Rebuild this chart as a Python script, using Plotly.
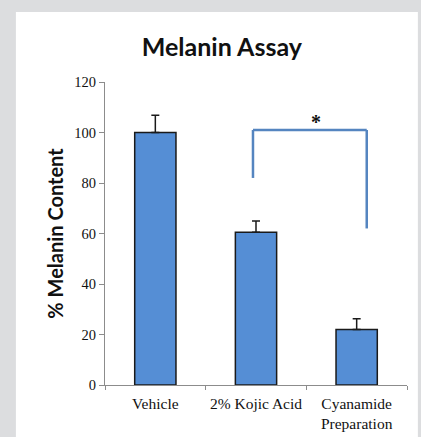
import plotly.graph_objects as go

# data
categories = ['Vehicle', '2% Kojic Acid', 'Cyanamide<br>Preparation']
melanin = [100, 60.5, 22]
err_up = [6.8, 4.5, 4.2]

# significance bracket (values on the y scale)
bracket_top = 101
bracket_left_bottom = 82
bracket_right_bottom = 62

BAR_BLUE = '#558ed5'
BRACKET_BLUE = '#5585c0'
AXIS_GREY = '#8c8c8c'
SERIF = 'Liberation Serif, Times New Roman, serif'
SANS = 'Lato, Open Sans, sans-serif'

fig = go.Figure()

fig.add_trace(go.Bar(
    x=categories,
    y=melanin,
    marker=dict(color=BAR_BLUE, line=dict(color='#1a1a1a', width=1.5)),
    error_y=dict(type='data', symmetric=False, array=err_up,
                 arrayminus=[0] * len(err_up),
                 color='#1a1a1a', thickness=1.5, width=4),
    showlegend=False,
))

# bracket between Kojic Acid and Cyanamide
xl, xr = 1 - 0.03, 2 + 0.1
line_style = dict(color=BRACKET_BLUE, width=2.5)
fig.add_shape(type='line', xref='x', yref='y', x0=xl, x1=xl,
              y0=bracket_left_bottom, y1=bracket_top, line=line_style)
fig.add_shape(type='line', xref='x', yref='y', x0=xl, x1=xr,
              y0=bracket_top, y1=bracket_top, line=line_style)
fig.add_shape(type='line', xref='x', yref='y', x0=xr, x1=xr,
              y0=bracket_right_bottom, y1=bracket_top, line=line_style)
fig.add_annotation(x=(xl + xr) / 2 + 0.06, y=bracket_top - 2, xref='x', yref='y',
                   text='<b>*</b>', showarrow=False, yanchor='bottom',
                   font=dict(family=SERIF, size=20, color='#111111'))

# white card on grey page
fig.add_shape(type='rect', xref='paper', yref='paper', layer='below',
              x0=-0.295, x1=1.036, y0=-0.25, y1=1.231,
              fillcolor='white', line=dict(width=0))

fig.update_layout(
    width=421,
    height=437,
    margin=dict(l=105, r=14, t=82, b=52),
    paper_bgcolor='#dcdddf',
    plot_bgcolor='rgba(0,0,0,0)',
    bargap=0.59,
    title=dict(text='<b>Melanin Assay</b>', xref='container', yref='container',
               x=0.527, y=0.893, xanchor='center', yanchor='middle',
               font=dict(family=SANS, size=25, color='#111111')),
)

fig.update_xaxes(
    showline=True, linecolor=AXIS_GREY, linewidth=1,
    ticks='outside', tickson='boundaries', ticklen=4, tickcolor=AXIS_GREY,
    tickangle=0, ticklabelstandoff=4,
    tickfont=dict(family=SERIF, size=15.5, color='#111111'),
    showgrid=False, range=[-0.5, 2.5], automargin=False,
)

fig.update_yaxes(
    range=[0, 120], dtick=20,
    showline=True, linecolor=AXIS_GREY, linewidth=1,
    ticks='outside', ticklen=5, tickcolor=AXIS_GREY,
    tickfont=dict(family=SERIF, size=14.5, color='#111111'),
    showgrid=False, zeroline=False, automargin=False,
    title=dict(text='<b>% Melanin Content</b>', standoff=5,
               font=dict(family=SANS, size=20, color='#111111')),
)

fig.write_html('out.html', config={'displayModeBar': False},
               post_script="document.body.style.margin='0';")
